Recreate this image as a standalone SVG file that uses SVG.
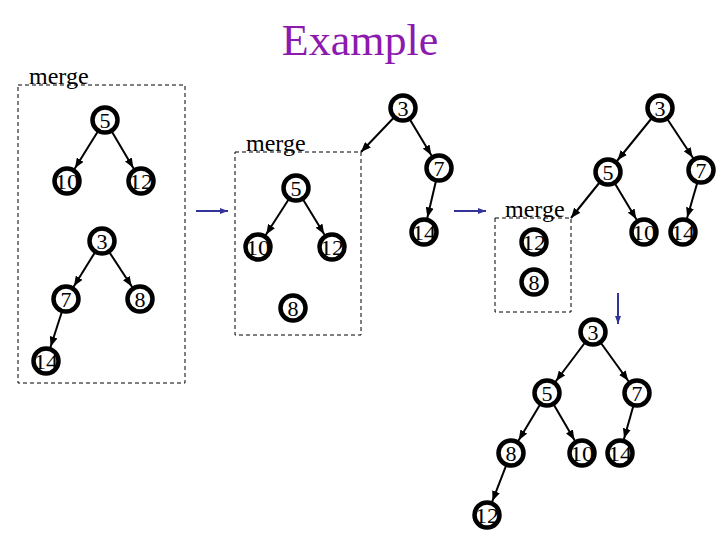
<svg xmlns="http://www.w3.org/2000/svg" width="720" height="540" viewBox="0 0 720 540">
<style>
.n circle{fill:#fff;stroke:#000;stroke-width:4.5}
.n text{font-family:'Liberation Serif', serif;font-size:22px;text-anchor:middle;fill:#000}
.e{stroke:#000;stroke-width:2;fill:none;marker-end:url(#ah)}
.ec{stroke:#000;stroke-width:2;fill:none;marker-end:url(#ahc)}
.box{fill:none;stroke:#000;stroke-width:1;stroke-dasharray:4,3}
.lbl{font-family:'Liberation Serif', serif;font-size:24px;fill:#000}
.ttl{font-family:'Liberation Serif', serif;font-size:44px;fill:#8c1aaf;text-anchor:middle}
.ba{stroke:#33339a;stroke-width:2;fill:none;marker-end:url(#bh)}
</style>
<defs>
<marker id="ah" markerUnits="userSpaceOnUse" markerWidth="10" markerHeight="8" viewBox="0 0 10 8" refX="25" refY="4" orient="auto"><path d="M0,0 L10,4 L0,8 z" fill="#000"/></marker>
<marker id="ahc" markerUnits="userSpaceOnUse" markerWidth="10" markerHeight="8" viewBox="0 0 10 8" refX="10" refY="4" orient="auto"><path d="M0,0 L10,4 L0,8 z" fill="#000"/></marker>
<marker id="bh" markerUnits="userSpaceOnUse" markerWidth="8" markerHeight="6" viewBox="0 0 8 6" refX="8" refY="3" orient="auto"><path d="M0,0 L8,3 L0,6 z" fill="#33339a"/></marker>
</defs>
<rect width="720" height="540" fill="#fff"/>
<text class="ttl" x="360" y="55">Example</text>

<g id="boxes">
<rect class="box" x="18" y="85" width="167" height="298"/>
<text class="lbl" x="29" y="84">merge</text>
<rect class="box" x="235" y="152" width="126" height="183"/>
<text class="lbl" x="246" y="151">merge</text>
<rect class="box" x="495" y="218" width="76" height="94"/>
<text class="lbl" x="505" y="217">merge</text>
</g>

<g id="connectors">
<line class="e" x1="105" y1="120" x2="67" y2="181"/>
<line class="e" x1="105" y1="120" x2="141" y2="181"/>
<line class="e" x1="102" y1="241" x2="66" y2="299"/>
<line class="e" x1="102" y1="241" x2="140" y2="299"/>
<line class="e" x1="66" y1="299" x2="46" y2="361"/>

<line class="ec" x1="403" y1="108" x2="361" y2="152"/>
<line class="e" x1="403" y1="108" x2="439" y2="168"/>
<line class="e" x1="439" y1="168" x2="424" y2="232"/>
<line class="e" x1="296" y1="188" x2="258" y2="247"/>
<line class="e" x1="296" y1="188" x2="332" y2="247"/>

<line class="e" x1="660" y1="108" x2="608" y2="172"/>
<line class="e" x1="660" y1="108" x2="701" y2="170"/>
<line class="ec" x1="608" y1="172" x2="571" y2="218"/>
<line class="e" x1="608" y1="172" x2="644" y2="232"/>
<line class="e" x1="701" y1="170" x2="683" y2="232"/>

<line class="e" x1="593" y1="332" x2="547" y2="393"/>
<line class="e" x1="593" y1="332" x2="637" y2="393"/>
<line class="e" x1="547" y1="393" x2="511" y2="453"/>
<line class="e" x1="547" y1="393" x2="582" y2="453"/>
<line class="e" x1="637" y1="393" x2="620" y2="453"/>
<line class="e" x1="511" y1="453" x2="487" y2="515"/>

<line class="ba" x1="196" y1="211" x2="228" y2="211"/>
<line class="ba" x1="454" y1="211" x2="486" y2="211"/>
<line class="ba" x1="618" y1="293" x2="618" y2="324"/>
</g>

<g id="p1-5" class="n"><circle cx="105" cy="120" r="12.5"/><text x="105" y="128">5</text></g>
<g id="p1-10" class="n"><circle cx="67" cy="181" r="12.5"/><text x="67" y="189" textLength="24" lengthAdjust="spacingAndGlyphs">10</text></g>
<g id="p1-12" class="n"><circle cx="141" cy="181" r="12.5"/><text x="141" y="189" textLength="24" lengthAdjust="spacingAndGlyphs">12</text></g>
<g id="p1-3" class="n"><circle cx="102" cy="241" r="12.5"/><text x="102" y="249">3</text></g>
<g id="p1-7" class="n"><circle cx="66" cy="299" r="12.5"/><text x="66" y="307">7</text></g>
<g id="p1-8" class="n"><circle cx="140" cy="299" r="12.5"/><text x="140" y="307">8</text></g>
<g id="p1-14" class="n"><circle cx="46" cy="361" r="12.5"/><text x="46" y="369" textLength="24" lengthAdjust="spacingAndGlyphs">14</text></g>

<g id="p2-5" class="n"><circle cx="296" cy="188" r="12.5"/><text x="296" y="196">5</text></g>
<g id="p2-10" class="n"><circle cx="258" cy="247" r="12.5"/><text x="258" y="255" textLength="24" lengthAdjust="spacingAndGlyphs">10</text></g>
<g id="p2-12" class="n"><circle cx="332" cy="247" r="12.5"/><text x="332" y="255" textLength="24" lengthAdjust="spacingAndGlyphs">12</text></g>
<g id="p2-8" class="n"><circle cx="293" cy="308" r="12.5"/><text x="293" y="316">8</text></g>
<g id="p2-3" class="n"><circle cx="403" cy="108" r="12.5"/><text x="403" y="116">3</text></g>
<g id="p2-7" class="n"><circle cx="439" cy="168" r="12.5"/><text x="439" y="176">7</text></g>
<g id="p2-14" class="n"><circle cx="424" cy="232" r="12.5"/><text x="424" y="240" textLength="24" lengthAdjust="spacingAndGlyphs">14</text></g>

<g id="p3-12" class="n"><circle cx="534" cy="242" r="12.5"/><text x="534" y="250" textLength="24" lengthAdjust="spacingAndGlyphs">12</text></g>
<g id="p3-8" class="n"><circle cx="534" cy="282" r="12.5"/><text x="534" y="290">8</text></g>
<g id="p3-3" class="n"><circle cx="660" cy="108" r="12.5"/><text x="660" y="116">3</text></g>
<g id="p3-5" class="n"><circle cx="608" cy="172" r="12.5"/><text x="608" y="180">5</text></g>
<g id="p3-7" class="n"><circle cx="701" cy="170" r="12.5"/><text x="701" y="178">7</text></g>
<g id="p3-10" class="n"><circle cx="644" cy="232" r="12.5"/><text x="644" y="240" textLength="24" lengthAdjust="spacingAndGlyphs">10</text></g>
<g id="p3-14" class="n"><circle cx="683" cy="232" r="12.5"/><text x="683" y="240" textLength="24" lengthAdjust="spacingAndGlyphs">14</text></g>

<g id="p4-3" class="n"><circle cx="593" cy="332" r="12.5"/><text x="593" y="340">3</text></g>
<g id="p4-5" class="n"><circle cx="547" cy="393" r="12.5"/><text x="547" y="401">5</text></g>
<g id="p4-7" class="n"><circle cx="637" cy="393" r="12.5"/><text x="637" y="401">7</text></g>
<g id="p4-8" class="n"><circle cx="511" cy="453" r="12.5"/><text x="511" y="461">8</text></g>
<g id="p4-10" class="n"><circle cx="582" cy="453" r="12.5"/><text x="582" y="461" textLength="24" lengthAdjust="spacingAndGlyphs">10</text></g>
<g id="p4-14" class="n"><circle cx="620" cy="453" r="12.5"/><text x="620" y="461" textLength="24" lengthAdjust="spacingAndGlyphs">14</text></g>
<g id="p4-12" class="n"><circle cx="487" cy="515" r="12.5"/><text x="487" y="523" textLength="24" lengthAdjust="spacingAndGlyphs">12</text></g>
</svg>
